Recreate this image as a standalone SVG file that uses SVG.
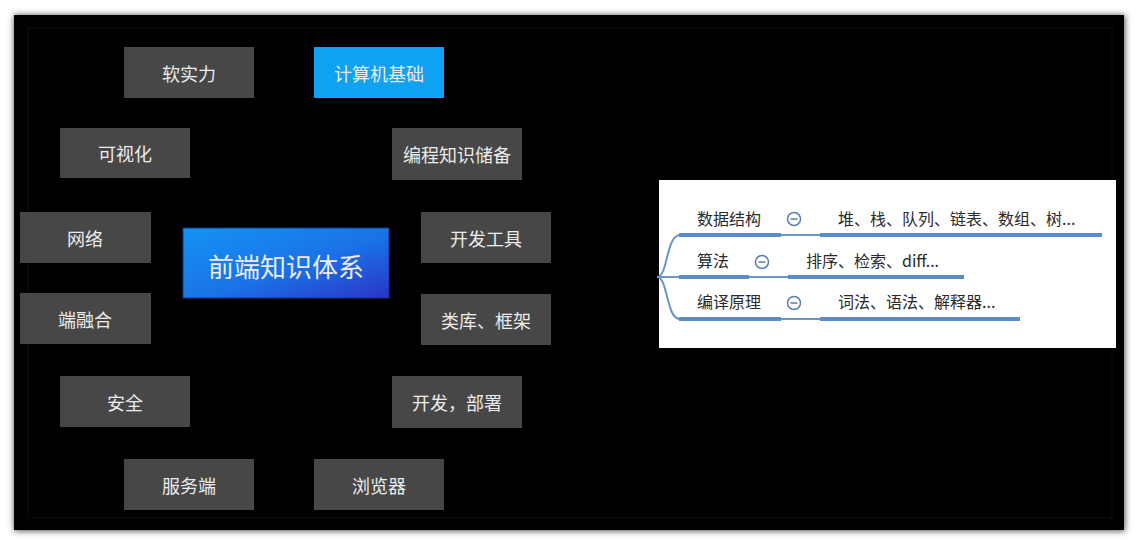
<svg xmlns="http://www.w3.org/2000/svg" width="1139" height="540" viewBox="0 0 1139 540">
<defs>
<linearGradient id="cg" x1="0" y1="0" x2="1" y2="1">
<stop offset="0" stop-color="#1494f4"/>
<stop offset="0.55" stop-color="#1a72e6"/>
<stop offset="1" stop-color="#2c34c8"/>
</linearGradient>
<filter id="sh" x="-5%" y="-5%" width="110%" height="110%"><feGaussianBlur stdDeviation="3"/></filter>
<style>
.n{fill:#474747}
.t{fill:#ececec;font-family:"Noto Sans CJK SC","Noto Sans",sans-serif;font-size:18px;text-anchor:middle;dominant-baseline:central}
.m{fill:#2a2a2a;font-family:"Noto Sans CJK SC","Noto Sans",sans-serif;font-size:16px}
.u{stroke:#5a8bcb;stroke-width:4;fill:none}
.l{stroke:#6a95cf;stroke-width:2;fill:none}
.ic{fill:none;stroke:#5a7fb0;stroke-width:1.5}
</style>
</defs>
<rect width="1139" height="540" fill="#ffffff"/>
<rect x="14" y="15" width="1111" height="516" fill="#555" filter="url(#sh)"/>
<rect x="14" y="15" width="1110" height="515" fill="#000"/>
<rect x="28" y="28" width="1084" height="490" fill="none" stroke="#070707" stroke-width="2"/>
<g id="n1"><rect class="n" x="124" y="47" width="130" height="51"/><text class="t" x="189" y="73">软实力</text></g>
<g id="n2"><rect x="314" y="47" width="130" height="51" fill="#10a2f2"/><text class="t" x="379" y="73">计算机基础</text></g>
<g id="n3"><rect class="n" x="60" y="128" width="130" height="50"/><text class="t" x="125" y="153">可视化</text></g>
<g id="n4"><rect class="n" x="392" y="128" width="130" height="52"/><text class="t" x="457" y="154">编程知识储备</text></g>
<g id="n5"><rect class="n" x="20" y="212" width="131" height="51"/><text class="t" x="85" y="238">网络</text></g>
<g id="n6"><rect class="n" x="421" y="212" width="130" height="51"/><text class="t" x="486" y="238">开发工具</text></g>
<g id="center"><rect x="183" y="228" width="206" height="70" fill="url(#cg)" stroke="#0a3a8a" stroke-width="1"/><text class="t" x="286" y="265" style="font-size:26px">前端知识体系</text></g>
<g id="n7"><rect class="n" x="20" y="293" width="131" height="51"/><text class="t" x="85" y="319">端融合</text></g>
<g id="n8"><rect class="n" x="421" y="294" width="130" height="51"/><text class="t" x="486" y="320">类库、框架</text></g>
<g id="n9"><rect class="n" x="60" y="376" width="130" height="51"/><text class="t" x="125" y="402">安全</text></g>
<g id="n10"><rect class="n" x="392" y="376" width="130" height="52"/><text class="t" x="457" y="402">开发，部署</text></g>
<g id="n11"><rect class="n" x="124" y="459" width="130" height="51"/><text class="t" x="189" y="485">服务端</text></g>
<g id="n12"><rect class="n" x="314" y="459" width="130" height="51"/><text class="t" x="379" y="485">浏览器</text></g>
<g id="panel"><rect x="659" y="180" width="457" height="168" fill="#ffffff"/></g>
<g id="connectors">
<path class="l" d="M657 277 C668 277 666 235 680 235"/>
<path class="l" d="M657 277 L680 277"/>
<path class="l" d="M657 277 C668 277 666 319 680 319"/>
<path class="u" d="M679 235 H781"/><path class="l" d="M781 235 H820"/><path class="u" d="M820 235 H1102"/>
<path class="u" d="M679 277 H749"/><path class="l" d="M749 277 H788"/><path class="u" d="M788 277 H964"/>
<path class="u" d="M679 319 H781"/><path class="l" d="M781 319 H820"/><path class="u" d="M820 319 H1020"/>
</g>
<g id="m1"><text class="m" x="697" y="225">数据结构</text><circle class="ic" cx="794" cy="219" r="6.5"/><path d="M790.5 219 H797.5" stroke="#5a7fb0" stroke-width="1.5"/><text class="m" x="838" y="225">堆、栈、队列、链表、数组、树...</text></g>
<g id="m2"><text class="m" x="697" y="267">算法</text><circle class="ic" cx="762" cy="262" r="6.5"/><path d="M758.5 262 H765.5" stroke="#5a7fb0" stroke-width="1.5"/><text class="m" x="806" y="267">排序、检索、diff...</text></g>
<g id="m3"><text class="m" x="697" y="308">编译原理</text><circle class="ic" cx="794" cy="303" r="6.5"/><path d="M790.5 303 H797.5" stroke="#5a7fb0" stroke-width="1.5"/><text class="m" x="838" y="308">词法、语法、解释器...</text></g>
</svg>
